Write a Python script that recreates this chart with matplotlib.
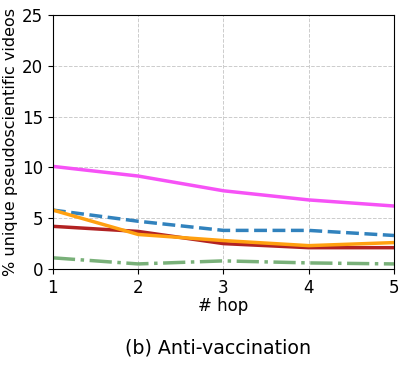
import matplotlib
matplotlib.use("Agg")
import matplotlib.pyplot as plt

# data
hops = [1, 2, 3, 4, 5]
magenta_vals = [10.1, 9.15, 7.7, 6.8, 6.2]
blue_vals = [5.8, 4.7, 3.8, 3.8, 3.3]
red_vals = [4.2, 3.7, 2.5, 2.1, 2.1]
orange_vals = [5.8, 3.4, 2.8, 2.3, 2.6]
green_vals = [1.1, 0.5, 0.8, 0.6, 0.5]

fig = plt.figure(figsize=(4.07, 3.66), dpi=100)
ax = fig.add_axes([0.130, 0.265, 0.838, 0.694])

ax.plot(hops, magenta_vals, color="#f652f6", lw=2.5)
ax.plot(hops, blue_vals, color="#3182bd", lw=2.5, ls="--")
ax.plot(hops, red_vals, color="#b22222", lw=2.5)
ax.plot(hops, orange_vals, color="#ffa010", lw=2.5)
ax.plot(hops, green_vals, color="#6aa86a", lw=2.5, ls="-.", alpha=0.9)

ax.set_xlim(1, 5)
ax.set_ylim(0, 25)
ax.set_xticks(hops)
ax.set_yticks([0, 5, 10, 15, 20, 25])
ax.grid(True, ls="--", color="#cccccc", lw=0.7)
ax.tick_params(labelsize=12)
ax.set_xlabel("# hop", fontsize=12, labelpad=0.5)
ax.set_ylabel("% unique pseudoscientific videos", fontsize=11.5, labelpad=3)

fig.text(0.535, 0.033, "(b) Anti-vaccination", ha="center", fontsize=13.7)

fig.savefig("out.png", dpi=100)
